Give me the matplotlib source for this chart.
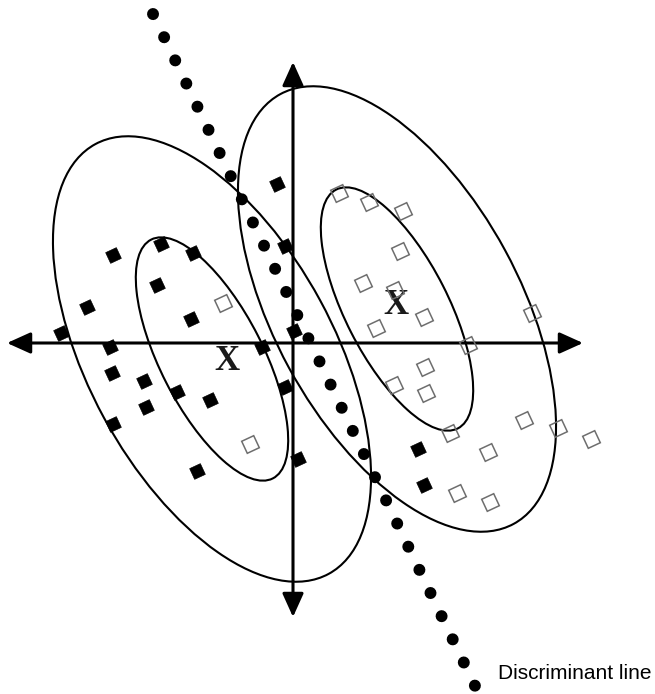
import numpy as np
import matplotlib
matplotlib.use('Agg')
import matplotlib.pyplot as plt
from matplotlib.patches import Ellipse

# chart units: axis origin at 0,0, one unit = 10 px, y up
black_x = [-1.6, -18.0, -13.2, -10.0, -13.6, -20.6, -10.2, -23.2, -0.8, 0.1, -18.3, -3.1,
           -18.1, -14.9, -11.6, -8.3, -14.7, -18.0, -9.6, -0.8, 0.5, 12.5, 13.1]
black_y = [15.9, 8.8, 9.9, 9.0, 5.8, 3.6, 2.4, 1.0, 9.7, 1.2, -0.4, -0.4,
           -3.0, -3.8, -4.9, -5.7, -6.4, -8.1, -12.8, -4.4, -11.6, -10.6, -14.2]

open_x = [-7.0, -4.3, 4.6, 7.6, 11.0, 10.7, 7.0, 10.2, 13.1, 8.3, 23.9, 17.5,
          13.2, 10.1, 13.3, 15.7, 23.1, 26.5, 29.8, 19.5, 16.4, 19.7]
open_y = [4.0, -10.1, 15.0, 14.1, 13.2, 9.2, 6.0, 5.3, 2.6, 1.5, 3.0, -0.2,
          -2.4, -4.2, -5.0, -9.0, -7.7, -8.5, -9.6, -10.9, -15.0, -15.9]

# class centres and the shared contour shapes (width, height, angle)
centres = [(-8.1, -1.6), (10.4, 3.4)]
label_pos = [(-6.6, -1.8), (10.3, 3.7)]
contours = [(48.9, 24.6, 118.5), (26.8, 10.3, 117.0)]

# discriminant line end points
disc_x = [-14.0, 18.35]
disc_y = [32.9, -34.6]

# axis arrows
h_axis = [(-28.6, 0.0), (29.0, 0.0)]
v_axis = [(0.0, -27.4), (0.0, 28.1)]

fig = plt.figure(figsize=(6.55, 6.94), dpi=100)
ax = fig.add_axes([0, 0, 1, 1])
ax.set_xlim(-29.3, 36.2)
ax.set_ylim(-35.1, 34.3)
ax.axis('off')

for c in centres:
    for w, h, a in contours:
        ax.add_patch(Ellipse(c, w, h, angle=a, fill=False, ec='black', lw=1.5, zorder=2))

for a, b in [h_axis, v_axis]:
    ax.annotate('', xy=b, xytext=a,
                arrowprops=dict(arrowstyle='<|-|>,head_length=1.44,head_width=0.65',
                                lw=2.2, color='black', shrinkA=0, shrinkB=0,
                                mutation_scale=10), zorder=3)

ax.plot(disc_x, disc_y, color='black', lw=8.6, linestyle=(0, (0.01, 2.14)),
        dash_capstyle='round', zorder=4)

ax.plot(black_x, black_y, linestyle='none', marker=(4, 0, 70), ms=12,
        mfc='black', mec='black', mew=0.5, zorder=5)
ax.plot(open_x, open_y, linestyle='none', marker=(4, 0, 70), ms=13.5,
        mfc='none', mec='#6e6e6e', mew=1.1, zorder=5)

for x, y in label_pos:
    ax.text(x, y, 'X', family='Liberation Serif', weight='bold', fontsize=25,
            ha='center', va='center', color='#1a1a1a', zorder=4)

ax.text(20.5, -33.6, 'Discriminant line', family='Liberation Sans', fontsize=15,
        ha='left', va='baseline', color='black')

fig.savefig('out.png', dpi=100)
